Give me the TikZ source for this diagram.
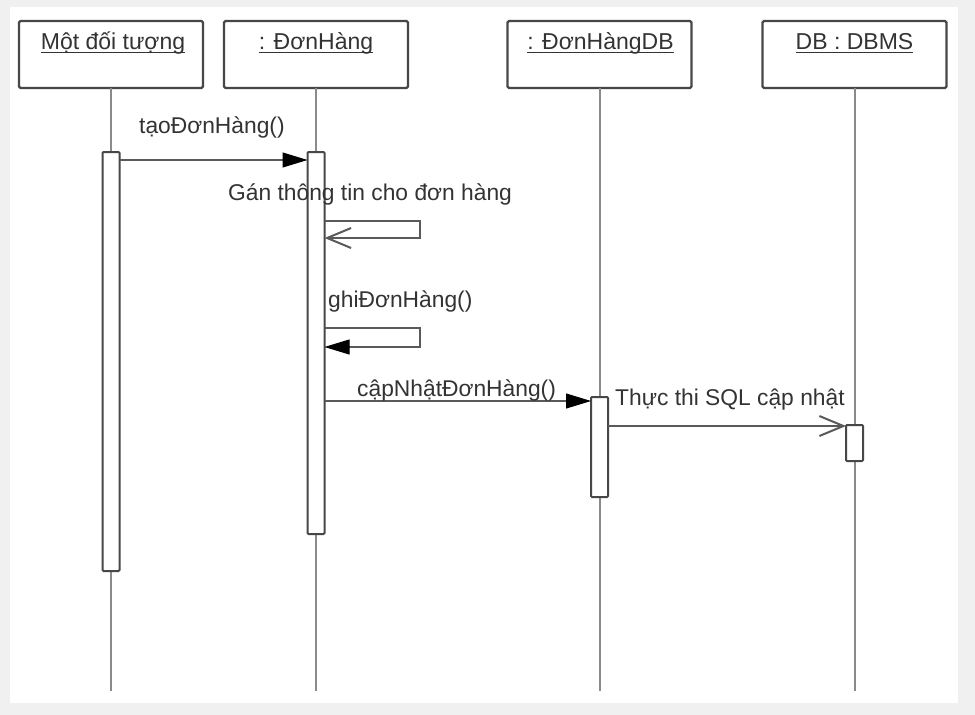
\documentclass[tikz,border=0pt]{standalone}
\usepackage{fontspec}
\setmainfont{Liberation Sans}
\usetikzlibrary{arrows.meta}
\definecolor{bgc}{HTML}{F0F0F0}
\definecolor{boxc}{HTML}{474747}
\definecolor{linec}{HTML}{5A5A5A}
\definecolor{lifec}{HTML}{8A8A8A}
\definecolor{txtc}{HTML}{333333}
\tikzset{
  objbox/.style={draw=boxc, line width=2.4pt, rounded corners=1.5pt, fill=white, minimum width=184pt, minimum height=67pt, inner sep=0pt, outer sep=0pt},
  objtitle/.style={anchor=base, inner sep=0pt, font=\fontsize{23}{26}\selectfont, text=txtc},
  titleline/.style={draw=txtc, line width=1.3pt},
  lifeline/.style={draw=lifec, line width=2pt},
  actbar/.style={draw=boxc, line width=2pt, fill=white, minimum width=17pt, inner sep=0pt, outer sep=0pt, rounded corners=1pt},
  msgfill/.style={draw=linec, line width=2pt, -{Triangle[length=25pt,width=15pt,line width=1pt,black]}},
  msgopen/.style={draw=linec, line width=2pt, -{Straight Barb[length=24pt,width=20pt,line width=2pt]}},
  msglabel/.style={anchor=base west, inner sep=0pt, font=\fontsize{22.8}{25}\selectfont, text=txtc},
}
\begin{document}
\begin{tikzpicture}[x=1pt,y=-1pt]
\useasboundingbox (0,0) rectangle (975,715);
\fill[bgc] (0,0) rectangle (975,715);
\fill[white] (10,7) rectangle (958,703);

% object boxes
\node[objbox] (b1) at (111,54.5) {};
\node[objbox] (b2) at (316,54.5) {};
\node[objbox] (b3) at (599.5,54.5) {};
\node[objbox] (b4) at (854.5,54.5) {};

\node[objtitle] (t1) at (113,49) {Một đối tượng};
\node[objtitle] (t2) at (316,49) {: ĐơnHàng};
\node[objtitle] (t3) at (600.5,49) {: ĐơnHàngDB};
\node[objtitle] (t4) at (854.5,49) {DB : DBMS};
\foreach \t in {t1,t2,t3,t4}{
  \draw[titleline] ([yshift=-3.5pt]\t.base west) -- ([yshift=-3.5pt]\t.base east);
}

% lifeline ends
\coordinate (e1) at (111,691);
\coordinate (e2) at (316,691);
\coordinate (e3) at (599.5,691);
\coordinate (e4) at (854.5,691);
\draw[lifeline] (b1.south) -- (e1);
\draw[lifeline] (b2.south) -- (e2);
\draw[lifeline] (b3.south) -- (e3);
\draw[lifeline] (b4.south) -- (e4);

% activation bars
\node[actbar, minimum height=419pt] (a1) at (111,361.5) {};
\node[actbar, minimum height=382pt] (a2) at (316,343) {};
\node[actbar, minimum height=100pt] (a3) at (599.5,447) {};
\node[actbar, minimum height=36pt] (a4) at (854.5,443) {};

% message 1
\path ([yshift=-8pt]a1.north east) coordinate (p1);
\draw[msgfill] (p1) -- (p1 -| a2.west);
\node[msglabel] (l1) at (139,133) {tạoĐơnHàng()};

% self message 1
\path ([yshift=-69pt]a2.north east) coordinate (p2a);
\path ([yshift=-86pt]a2.north east) coordinate (p2b);
\coordinate (s1a) at (420,221);
\coordinate (s1b) at (420,238);
\draw[msgopen] (p2a) -- (s1a) -- (s1b) -- (p2b);
\node[msglabel] (l2) at (228,200) {Gán thông tin cho đơn hàng};

% self message 2
\path ([yshift=-176pt]a2.north east) coordinate (p3a);
\path ([yshift=-195pt]a2.north east) coordinate (p3b);
\coordinate (s2a) at (420,328);
\coordinate (s2b) at (420,347);
\draw[msgfill] (p3a) -- (s2a) -- (s2b) -- (p3b);
\node[msglabel] (l3) at (328,307) {ghiĐơnHàng()};

% message 3
\path ([yshift=-249pt]a2.north east) coordinate (p4);
\draw[msgfill] (p4) -- (p4 -| a3.west);
\node[msglabel] (l4) at (357,396) {cậpNhậtĐơnHàng()};

% message 4
\path ([yshift=-29pt]a3.north east) coordinate (p5);
\draw[msgopen] (p5) -- (p5 -| a4.west);
\node[msglabel] (l5) at (615,405) {Thực thi SQL cập nhật};
\end{tikzpicture}
\end{document}
